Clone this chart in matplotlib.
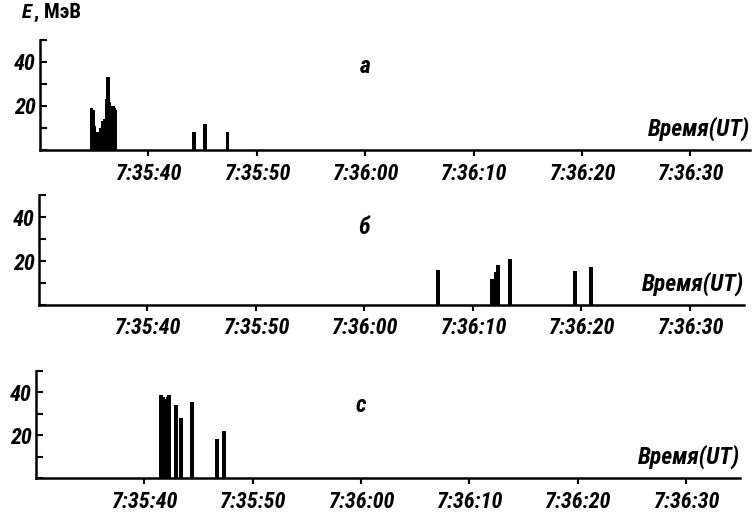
import matplotlib
matplotlib.use("Agg")
import matplotlib.pyplot as plt
from matplotlib import font_manager

# time in seconds after 7:35:00 UT, energy in MeV
t_a = [34.75, 34.85, 35.0, 35.2, 35.4, 35.6, 35.8, 36.0, 36.15, 36.25, 36.35,
       36.5, 36.7, 36.85, 36.95, 44.2, 45.2, 47.3]
e_a = [19, 18, 11, 8, 8, 10, 13, 14, 23, 33, 22, 20, 20, 19, 18, 8, 12, 8]

t_b = [66.8, 71.75, 71.9, 72.1, 72.3, 73.4, 79.4, 80.9]
e_b = [16, 12, 12, 15, 18, 21, 15.5, 17.5]

t_c = [41.55, 41.7, 41.85, 42.0, 42.15, 42.3, 42.9, 43.41,
       44.4, 46.73, 47.38]
e_c = [39, 38, 37, 37, 38, 39, 34, 28, 35.5, 18, 22]

tick_t = [40, 50, 60, 70, 80, 90]
tick_lbl = ["7:35:40", "7:35:50", "7:36:00", "7:36:10", "7:36:20", "7:36:30"]
panel_letters = ["a", "б", "c"]

names = {f.name for f in font_manager.fontManager.ttflist}
cond = next((n for n in ["Liberation Sans Narrow", "DejaVu Sans Condensed",
                         "Roboto Condensed"] if n in names), "DejaVu Sans")
lbl_font = dict(family=cond, style="italic", weight="bold", size=17)

W, H = 754, 513
fig = plt.figure(figsize=(W / 100, H / 100), dpi=100)

# left, bottom, right, top in pixels
boxes = [(40, 150, 750, 40), (39, 305, 744, 195), (36, 478, 740, 371)]
xlims = [(30, 95.5), (30, 95), (30, 95)]
letter_y = [38, 35, 34]
series = [(t_a, e_a), (t_b, e_b), (t_c, e_c)]

for i, ((l, b, r, t), (tt, ee)) in enumerate(zip(boxes, series)):
    ax = fig.add_axes([l / W, 1 - b / H, (r - l) / W, (b - t) / H])
    ax.bar(tt, ee, width=0.36, color="black", linewidth=0)
    ax.set_xlim(*xlims[i])
    ax.set_ylim(0, 50)
    for s in ["top", "right"]:
        ax.spines[s].set_visible(False)
    for s in ["left", "bottom"]:
        ax.spines[s].set_linewidth(1.8)
    ax.set_yticks([0, 10, 20, 30, 40, 50])
    ax.set_yticklabels(["", "", "20", "", "40", ""])
    ax.set_xticks(tick_t)
    ax.set_xticklabels(tick_lbl)
    ax.tick_params(axis="y", direction="in", length=5, width=1.5, pad=3)
    ax.tick_params(axis="x", direction="out", length=4, width=1.5, pad=5)
    for lab in ax.get_xticklabels() + ax.get_yticklabels():
        lab.set_fontfamily(cond)
        lab.set_fontstyle("italic")
        lab.set_fontweight("bold")
        lab.set_fontsize(16)
    ax.text(60, letter_y[i], panel_letters[i], ha="center", va="center",
            **lbl_font)
    ax.text(1.0, 0.08, "Время(UT)", transform=ax.transAxes, ha="right",
            va="bottom", **lbl_font)

fig.text(22 / W, 1 - 12 / H, "E", ha="left", va="center",
         family=cond, style="italic", weight="bold", size=15)
fig.text(34 / W, 1 - 12 / H, ", МэВ", ha="left", va="center",
         family=cond, weight="bold", size=15)

fig.savefig("out.png", dpi=100)
